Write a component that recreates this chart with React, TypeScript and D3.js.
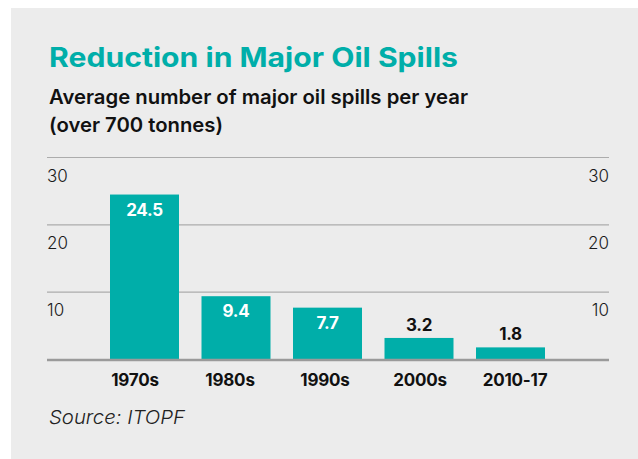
import React, { useEffect, useRef } from 'react';
import * as d3 from 'd3';

const categories = ['1970s', '1980s', '1990s', '2000s', '2010-17'];
const spills = [24.5, 9.4, 7.7, 3.2, 1.8];
const tickValues = [10, 20, 30];

const W = 638;
const H = 459;
const TEAL = '#00aea9';
const FONT = 'Inter, "Liberation Sans", Arial, sans-serif';

const App: React.FC = () => {
  const svgRef = useRef<SVGSVGElement | null>(null);

  useEffect(() => {
    document.body.style.margin = '0';
    const svg = d3.select(svgRef.current);
    svg.selectAll('*').remove();

    // panel background
    svg.append('rect').attr('x', 11).attr('y', 8).attr('width', W - 11).attr('height', H - 8).attr('fill', '#ececec');

    svg.append('text')
      .attr('x', 49).attr('y', 66.5)
      .attr('font-family', FONT).attr('font-size', 27).attr('font-weight', 700)
      .attr('textLength', 409).attr('lengthAdjust', 'spacingAndGlyphs')
      .attr('fill', TEAL)
      .text('Reduction in Major Oil Spills');

    const sub = svg.append('text')
      .attr('font-family', FONT).attr('font-size', 20).attr('font-weight', 600)
      .attr('fill', '#111');
    sub.append('tspan').attr('x', 49).attr('y', 104)
      .attr('textLength', 419).attr('lengthAdjust', 'spacingAndGlyphs')
      .text('Average number of major oil spills per year');
    sub.append('tspan').attr('x', 49).attr('y', 131.5)
      .attr('textLength', 174).attr('lengthAdjust', 'spacingAndGlyphs')
      .text('(over 700 tonnes)');

    const y = d3.scaleLinear().domain([0, 30]).range([359.5, 157.5]);
    const x = d3.scaleBand<string>().domain(categories).range([98.75, 556.25]).paddingInner(0.246).paddingOuter(0.123);
    const xLabel = d3.scaleBand<string>().domain(categories).range([87.5, 562.5]);
    const gridX0 = 47;
    const gridX1 = 609;

    // gridlines + tick labels on both sides
    const grid = svg.append('g');
    tickValues.forEach((t) => {
      grid.append('line')
        .attr('x1', gridX0).attr('x2', gridX1)
        .attr('y1', y(t)).attr('y2', y(t))
        .attr('stroke', '#acacac').attr('stroke-width', 1.2);
      grid.append('text')
        .attr('x', gridX0).attr('y', y(t) + 24)
        .attr('font-family', FONT).attr('font-size', 17).attr('font-weight', 300)
        .attr('fill', '#1a1a1a')
        .text(t);
      grid.append('text')
        .attr('x', gridX1).attr('y', y(t) + 24)
        .attr('text-anchor', 'end')
        .attr('font-family', FONT).attr('font-size', 17).attr('font-weight', 300)
        .attr('fill', '#1a1a1a')
        .text(t);
    });

    svg.append('g')
      .selectAll('rect')
      .data(spills)
      .enter()
      .append('rect')
      .attr('x', (_, i) => x(categories[i]) as number)
      .attr('width', x.bandwidth())
      .attr('y', (d) => y(d))
      .attr('height', (d) => y(0) - y(d))
      .attr('fill', TEAL);

    // baseline
    svg.append('line')
      .attr('x1', gridX0).attr('x2', gridX1)
      .attr('y1', y(0) + 0.5).attr('y2', y(0) + 0.5)
      .attr('stroke', '#9a9a9a').attr('stroke-width', 2.5);

    // value labels
    svg.append('g')
      .selectAll('text')
      .data(spills)
      .enter()
      .append('text')
      .attr('x', (_, i) => (x(categories[i]) as number) + x.bandwidth() / 2)
      .attr('y', (d) => (d >= 5 ? y(d) + 21 : y(d) - 7))
      .attr('text-anchor', 'middle')
      .attr('font-family', FONT).attr('font-size', 17).attr('font-weight', 700)
      .attr('letter-spacing', -0.3)
      .attr('fill', (d) => (d >= 5 ? '#fff' : '#111'))
      .text((d) => d.toFixed(1));

    // category labels
    svg.append('g')
      .selectAll('text')
      .data(categories)
      .enter()
      .append('text')
      .attr('x', (d) => (xLabel(d) as number) + xLabel.bandwidth() / 2)
      .attr('y', 386)
      .attr('text-anchor', 'middle')
      .attr('font-family', FONT).attr('font-size', 17).attr('font-weight', 700)
      .attr('letter-spacing', -0.2)
      .attr('fill', '#111')
      .text((d) => d);

    svg.append('text')
      .attr('x', 49).attr('y', 424)
      .attr('font-family', FONT).attr('font-size', 19).attr('font-weight', 300)
      .attr('font-style', 'italic')
      .attr('textLength', 136).attr('lengthAdjust', 'spacingAndGlyphs')
      .attr('fill', '#222')
      .text('Source: ITOPF');
  }, []);

  return <svg ref={svgRef} width={W} height={H} style={{ display: 'block' }} />;
};

export default App;
